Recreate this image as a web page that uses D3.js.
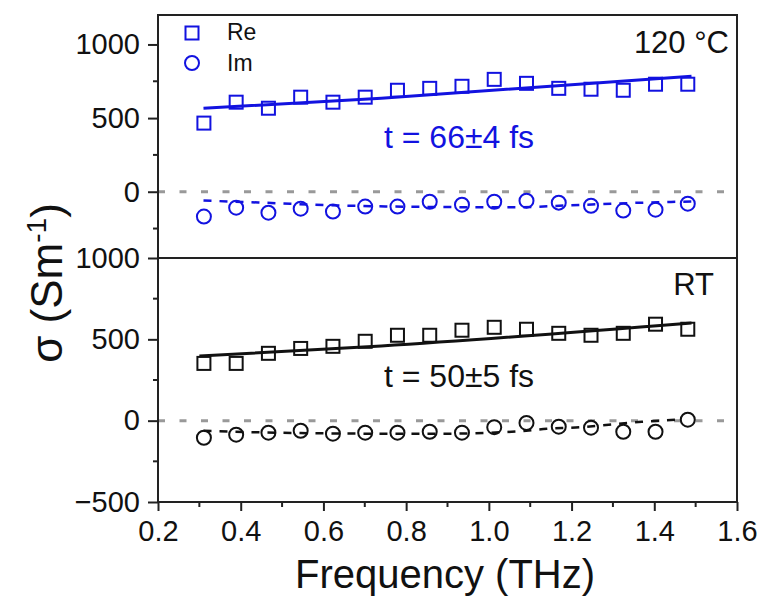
<!DOCTYPE html>
<html>
<head>
<meta charset="utf-8">
<script src="https://cdn.jsdelivr.net/npm/d3@7"></script>
<style>
  body { margin: 0; background: #fff; }
  text { font-family: "Liberation Sans", Arial, sans-serif; fill: #111; }
</style>
</head>
<body>
<div id="chart"></div>
<script>
const WIDTH = 763;
const HEIGHT = 601;
const LEFT = 158, RIGHT = 737, TOP = 15, MID = 258, BOTTOM = 502;
const BLUE = "#1212e0";

// frequency of each point (THz)
var freq = [0.311, 0.389, 0.467, 0.545, 0.623, 0.701, 0.779, 0.857,
            0.935, 1.013, 1.091, 1.169, 1.247, 1.325, 1.403, 1.481];

// 120 C panel
var hotRe = [466, 608, 567, 642, 608, 642, 689, 702, 716, 763, 736, 702, 696, 689, 730, 730];
var hotIm = [-169, -108, -142, -115, -135, -101, -101, -68, -88, -68, -61, -74, -95, -128, -122, -81];
var hotReFit = [[0.31, 567], [0.74, 635], [1.49, 784]];
var hotImFit = [[0.31, -60], [0.45, -74], [0.60, -90], [0.75, -100], [0.90, -104],
                [1.05, -106], [1.20, -92], [1.35, -76], [1.49, -66]];

// RT panel
var rtRe = [352, 352, 414, 444, 457, 488, 525, 525, 556, 574, 562, 537, 525, 537, 593, 562];
var rtIm = [-105, -86, -74, -62, -80, -74, -74, -68, -74, -40, -14, -37, -43, -68, -68, 6];
var rtReFit = [[0.30, 397], [0.74, 459], [1.49, 601]];
var rtImFit = [[0.31, -62], [0.45, -72], [0.60, -78], [0.75, -80], [0.90, -80], [0.99, -75],
               [1.07, -66], [1.14, -50], [1.21, -42], [1.29, -25], [1.37, -7], [1.45, 5]];

var xTicks = [0.2, 0.4, 0.6, 0.8, 1.0, 1.2, 1.4, 1.6];
var xMinor = [0.3, 0.5, 0.7, 0.9, 1.1, 1.3, 1.5];
var topTicks = [0, 500, 1000];
var topMinor = [-250, 250, 750];
var botTicks = [-500, 0, 500, 1000];
var botMinor = [-250, 250, 750];

var svg = d3.select("#chart").append("svg")
    .attr("width", WIDTH)
    .attr("height", HEIGHT);

var x_scale = d3.scaleLinear().domain([0.2, 1.6]).range([LEFT, RIGHT]);
var yTop = d3.scaleLinear().domain([-450, 1200]).range([MID, TOP]);
var yBot = d3.scaleLinear().domain([-500, 1000]).range([BOTTOM, MID]);

function drawPanel(y, re, im, reFit, imFit, color, ticks, minor) {
    var g = svg.append("g");

    // zero reference
    g.append("line")
        .attr("x1", LEFT).attr("x2", RIGHT)
        .attr("y1", y(0)).attr("y2", y(0))
        .attr("stroke", "#999").attr("stroke-width", 3)
        .attr("stroke-dasharray", "7,14.5");

    var line = d3.line()
        .x(d => x_scale(d[0]))
        .y(d => y(d[1]))
        .curve(d3.curveMonotoneX);

    g.append("path").datum(reFit)
        .attr("d", line).attr("fill", "none")
        .attr("stroke", color).attr("stroke-width", 3);

    g.append("path").datum(imFit)
        .attr("d", line).attr("fill", "none")
        .attr("stroke", color).attr("stroke-width", 2.5)
        .attr("stroke-dasharray", "8,8");

    g.selectAll(".sq").data(re).enter().append("rect")
        .attr("x", (d, i) => x_scale(freq[i]) - 6.5)
        .attr("y", d => y(d) - 6.5)
        .attr("width", 13).attr("height", 13)
        .attr("fill", "none").attr("stroke", color).attr("stroke-width", 2);

    g.selectAll(".ci").data(im).enter().append("circle")
        .attr("cx", (d, i) => x_scale(freq[i]))
        .attr("cy", d => y(d))
        .attr("r", 7)
        .attr("fill", "none").attr("stroke", color).attr("stroke-width", 2);

    // left axis
    var axis = d3.axisLeft(y).tickValues(ticks).tickSize(10).tickPadding(8)
        .tickFormat(d3.format("d"));
    var ax = g.append("g").attr("transform", "translate(" + LEFT + ",0)").call(axis);
    ax.select(".domain").remove();
    ax.selectAll("line").attr("stroke", "#222").attr("stroke-width", 2);
    ax.selectAll("text").style("font-size", "29px").attr("fill", "#111")
        .attr("font-family", "Liberation Sans, Arial, sans-serif");

    g.selectAll(".minor").data(minor).enter().append("line")
        .attr("x1", LEFT - 5).attr("x2", LEFT)
        .attr("y1", d => y(d)).attr("y2", d => y(d))
        .attr("stroke", "#222").attr("stroke-width", 2);
}

drawPanel(yTop, hotRe, hotIm, hotReFit, hotImFit, BLUE, topTicks, topMinor);
drawPanel(yBot, rtRe, rtIm, rtReFit, rtImFit, "#111", botTicks, botMinor);

// bottom axis
var xAxis = d3.axisBottom(x_scale).tickValues(xTicks).tickSize(9).tickPadding(9)
    .tickFormat(d3.format(".1f"));
var xa = svg.append("g").attr("transform", "translate(0," + BOTTOM + ")").call(xAxis);
xa.select(".domain").remove();
xa.selectAll("line").attr("stroke", "#222").attr("stroke-width", 2);
xa.selectAll("text").style("font-size", "29px").attr("fill", "#111")
    .attr("font-family", "Liberation Sans, Arial, sans-serif");

svg.selectAll(".xminor").data(xMinor).enter().append("line")
    .attr("x1", d => x_scale(d)).attr("x2", d => x_scale(d))
    .attr("y1", BOTTOM).attr("y2", BOTTOM + 5)
    .attr("stroke", "#222").attr("stroke-width", 2);

// frames
svg.append("rect")
    .attr("x", LEFT).attr("y", TOP)
    .attr("width", RIGHT - LEFT).attr("height", BOTTOM - TOP)
    .attr("fill", "none").attr("stroke", "#222").attr("stroke-width", 2);
svg.append("line")
    .attr("x1", LEFT).attr("x2", RIGHT).attr("y1", MID).attr("y2", MID)
    .attr("stroke", "#222").attr("stroke-width", 2);

// legend
svg.append("rect").attr("x", 185.5).attr("y", 26.5).attr("width", 13).attr("height", 13)
    .attr("fill", "none").attr("stroke", BLUE).attr("stroke-width", 2);
svg.append("circle").attr("cx", 192).attr("cy", 63).attr("r", 7)
    .attr("fill", "none").attr("stroke", BLUE).attr("stroke-width", 2);
svg.append("text").attr("x", 227).attr("y", 40).style("font-size", "23px").text("Re");
svg.append("text").attr("x", 227).attr("y", 71).style("font-size", "23px").text("Im");

// annotations
svg.append("text").attr("x", 729).attr("y", 53).attr("text-anchor", "end")
    .style("font-size", "31px").text("120 \u00B0C");
svg.append("text").attr("x", 714).attr("y", 295).attr("text-anchor", "end")
    .style("font-size", "31px").text("RT");
svg.append("text").attr("x", 384).attr("y", 148)
    .style("font-size", "32px").style("fill", BLUE).text("t = 66\u00B14 fs");
svg.append("text").attr("x", 384).attr("y", 387)
    .style("font-size", "32px").text("t = 50\u00B15 fs");

// axis titles
svg.append("text").attr("x", 445).attr("y", 588).attr("text-anchor", "middle")
    .style("font-size", "40px").text("Frequency (THz)");

var yt = svg.append("text")
    .attr("transform", "translate(62,283) rotate(-90)")
    .attr("text-anchor", "middle")
    .style("font-size", "44px");
yt.append("tspan").text("\u03C3 (Sm");
yt.append("tspan").attr("dy", -16).style("font-size", "28px").text("-1");
yt.append("tspan").attr("dy", 16).text(")");
</script>
</body>
</html>
